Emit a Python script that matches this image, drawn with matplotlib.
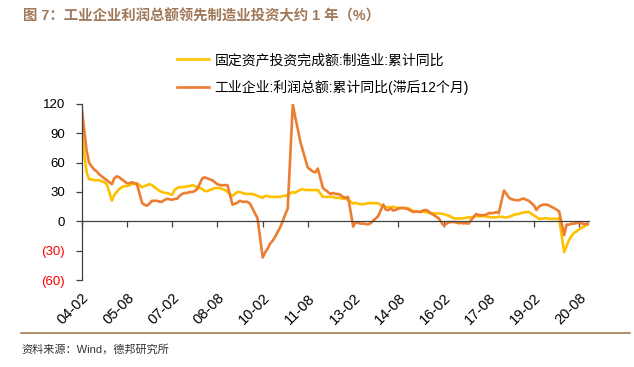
import matplotlib
matplotlib.use('Agg')
import matplotlib.pyplot as plt
import matplotlib.dates as mdates
from matplotlib.lines import Line2D
import pandas as pd

plt.rcParams['font.family'] = ['Liberation Sans', 'Noto Sans CJK SC', 'DejaVu Sans']

# monthly, Feb..Dec (no January in cumulative data), 2004-2020
YEARS = list(range(2004, 2021))

# 固定资产投资完成额:制造业:累计同比
fai_mfg = [
    97, 70, 50, 43, 43, 42, 42, 42, 41, 40, 38,          # 2004
    21, 27, 30, 33, 35, 36, 36, 37, 38, 38, 39,          # 2005
    35, 36, 37, 38, 37, 35, 33, 31, 30, 29, 29,          # 2006
    27, 32, 34, 35, 35, 35, 36, 36, 37, 36, 35,          # 2007
    33, 31, 31, 32, 33, 34, 34, 34, 33, 32, 30,          # 2008
    26, 28, 30, 30, 29, 28, 28, 28, 28, 27, 26,          # 2009
    24, 26, 26, 25, 25, 25, 25, 25, 26, 26, 27,          # 2010
    30, 29, 31, 32, 33, 32, 32, 32, 32, 32, 32,          # 2011
    25, 25, 25, 25, 25, 24, 24, 24, 23, 23, 22,          # 2012
    18, 19, 18, 17.5, 17.5, 18, 18.5, 18.7, 18.5, 18.5, 18.5,  # 2013
    15.1, 14.7, 14.6, 14.5, 14.8, 14.1, 13.8, 13.8, 13.5, 13.5, 13.5,  # 2014
    10.3, 10.4, 10.0, 9.9, 9.9, 9.4, 8.9, 8.3, 8.3, 8.0, 8.1,  # 2015
    7.5, 6.4, 6.0, 4.6, 3.3, 2.9, 2.8, 3.1, 3.1, 3.6, 4.2,     # 2016
    4.3, 5.8, 4.9, 5.1, 5.5, 4.8, 4.5, 4.2, 4.1, 4.1, 4.8,     # 2017
    4.3, 3.8, 4.8, 5.2, 6.8, 7.3, 7.5, 8.7, 9.1, 9.5, 9.5,     # 2018
    5.9, 4.6, 2.5, 2.7, 3.0, 3.3, 2.6, 2.5, 2.6, 2.5, 3.1,     # 2019
    -31.5, -25.2, -18.8, -14.8, -11.7, -10.2, -8.1, -6.5, -5.3, -3.5, -2.2,  # 2020
]

# 工业企业:利润总额:累计同比 (滞后12个月)
profit_lag12 = [
    116, 95, 72, 60, 56, 53, 51, 48, 46, 44, 42,         # 2004
    38, 44, 46, 45, 43, 41, 39, 39, 40, 39, 38,          # 2005
    19, 17, 16, 18, 21, 21, 21, 20, 20, 22, 23,          # 2006
    22, 23, 23, 26, 28, 29, 29, 30, 30, 31, 33,          # 2007
    44, 45, 44, 43, 42, 40, 38, 37, 37, 37, 37,          # 2008
    17, 18, 19, 21, 20, 20, 20, 18, 13, 8, 3,            # 2009
    -37, -32, -28, -23, -20, -16, -11, -6, 0, 7, 13,     # 2010
    120, 107, 95, 82, 73, 64, 55, 53, 51, 50, 54,        # 2011
    34, 32, 30, 28, 29, 28, 28, 27, 25, 24, 25,          # 2012
    -5.2, -1.3, -1.6, -2.4, -2.2, -2.7, -3.1, -1.8, 0.5, 3.0, 5.3,       # 2013
    17.2, 12.1, 11.4, 13.2, 11.1, 11.6, 13.1, 13.5, 13.7, 13.2, 12.2,    # 2014
    9.4, 10.1, 9.6, 9.6, 11.4, 11.6, 10.4, 7.9, 6.7, 4.9, 3.3,           # 2015
    -4.2, -2.7, -1.3, -0.8, -0.7, -1.0, -1.9, -1.7, -2.0, -1.9, -2.3,    # 2016
    4.8, 7.4, 6.5, 6.4, 6.2, 6.9, 8.4, 8.4, 8.6, 9.4, 8.5,               # 2017
    31.5, 28.3, 24.4, 22.7, 22.0, 21.6, 21.6, 22.8, 23.3, 21.9, 21.0,    # 2018
    16.1, 11.6, 15.0, 16.5, 17.2, 17.1, 16.2, 14.7, 13.6, 11.8, 10.3,    # 2019
    -14.0, -3.3, -3.4, -2.3, -2.4, -1.7, -1.7, -2.1, -2.9, -2.1, -3.3,   # 2020
]

Y_TICKS = [120, 90, 60, 30, 0, -30, -60]
Y_LABELS = ['120', '90', '60', '30', '0', '(30)', '(60)']

LABEL_FAI = '固定资产投资完成额:制造业:累计同比'
LABEL_PROFIT = '工业企业:利润总额:累计同比(滞后12个月)'
TITLE = '图 7：工业企业利润总额领先制造业投资大约 1 年（%）'
SOURCE = '资料来源：Wind，德邦研究所'

YELLOW = '#FFC000'
ORANGE = '#ED7D31'
BROWN = '#A67C52'

dates = pd.date_range('2004-02-01', '2020-12-01', freq='MS')
dates = dates[dates.month != 1]
x = mdates.date2num(dates.to_pydatetime())
ticks = pd.date_range('2004-02-01', '2020-08-01', freq='18MS')
xt = mdates.date2num(ticks.to_pydatetime())
tick_labels = [d.strftime('%y-%m') for d in ticks]

W, H = 634, 367
fig = plt.figure(figsize=(W / 100, H / 100), dpi=100)
ax = fig.add_axes([81.7 / W, 1 - 280 / H, (589.3 - 81.7) / W, (280 - 104) / H])

ax.plot(x, fai_mfg, color=YELLOW, lw=1.9, label=LABEL_FAI, solid_joinstyle='round')
ax.plot(x, profit_lag12, color=ORANGE, lw=1.9, label=LABEL_PROFIT, solid_joinstyle='round')

ax.set_xlim(x[0], x[-1])
ax.set_ylim(-60, 120)

# y axis
ax.set_yticks(Y_TICKS)
ax.set_yticklabels(Y_LABELS, fontsize=9.5)
for t, v in zip(ax.get_yticklabels(), Y_TICKS):
    if v < 0:
        t.set_color('#FF0000')
ax.tick_params(axis='y', direction='out', length=4, width=0.9, color='#404040', pad=8)

# x axis crosses at zero, labels at the bottom
for s in ['top', 'right']:
    ax.spines[s].set_visible(False)
ax.spines['left'].set_color('#404040')
ax.spines['left'].set_linewidth(0.9)
ax.spines['bottom'].set_position(('data', 0))
ax.spines['bottom'].set_color('#404040')
ax.spines['bottom'].set_linewidth(0.9)
ax.set_xticks(xt)
ax.tick_params(axis='x', direction='out', length=4, width=0.9, color='#404040', labelbottom=False)

sec = ax.secondary_xaxis(0)
sec.set_xticks(xt)
sec.set_xticklabels(tick_labels, fontsize=10.5, rotation=45, ha='right', rotation_mode='anchor')
sec.tick_params(length=0, pad=8)
sec.spines['bottom'].set_visible(False)

fig.legend(loc='upper left', bbox_to_anchor=(177 / W, 1 - 53 / H), frameon=False,
           fontsize=10, handlelength=2.3, handletextpad=0.4, labelspacing=0.95,
           borderpad=0, borderaxespad=0)

fig.text(23 / W, 1 - 16 / H, TITLE, fontsize=10.4, fontweight='bold', color='#A0785A', va='center')
fig.add_artist(Line2D([21 / W, 630 / W], [1 - 333 / H] * 2, color=BROWN, lw=1.2))
fig.text(21 / W, 1 - 349 / H, SOURCE, fontsize=8, color='#333333', va='center')

fig.savefig('out.png', dpi=100)
